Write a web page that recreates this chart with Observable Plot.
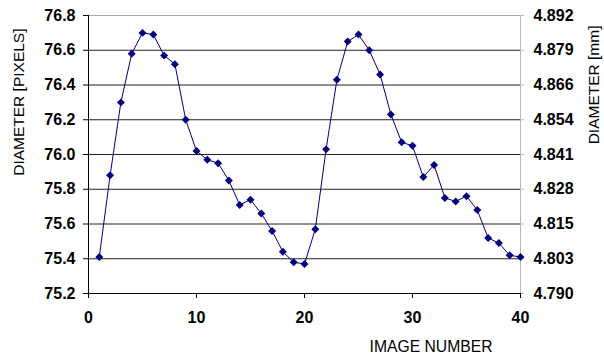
<!DOCTYPE html>
<html>
<head>
<meta charset="utf-8">
<script src="https://cdn.jsdelivr.net/npm/d3@7"></script>
<script src="https://cdn.jsdelivr.net/npm/@observablehq/plot@0.6"></script>
<style>
  html, body { margin: 0; padding: 0; background: #fff; }
</style>
</head>
<body>
<div id="chart"></div>
<script>
const imageNumbers = [1,2,3,4,5,6,7,8,9,10,11,12,13,14,15,16,17,18,19,20,21,22,23,24,25,26,27,28,29,30,31,32,33,34,35,36,37,38,39,40];
const diameterPixels = [75.41,75.88,76.30,76.58,76.70,76.69,76.57,76.52,76.20,76.02,75.97,75.95,75.85,75.71,75.74,75.66,75.56,75.44,75.38,75.37,75.57,76.03,76.43,76.65,76.69,76.60,76.46,76.23,76.07,76.05,75.87,75.94,75.75,75.73,75.76,75.68,75.52,75.49,75.42,75.41];
const leftTicks = [75.2,75.4,75.6,75.8,76.0,76.2,76.4,76.6,76.8];
const rightTickLabels = ["4.790","4.803","4.815","4.828","4.841","4.854","4.866","4.879","4.892"];
const xTicks = [0,10,20,30,40];
const leftTitle = "DIAMETER [PIXELS]";
const rightTitle = "DIAMETER [mm]";
const xTitle = "IMAGE NUMBER";

const data = imageNumbers.map((n, i) => ({n, d: diameterPixels[i]}));
const font = "'Liberation Sans', Arial, sans-serif";

const chart = Plot.plot({
  width: 604,
  height: 357,
  marginLeft: 88,
  marginRight: 84,
  marginTop: 15,
  marginBottom: 64,
  style: {fontFamily: font, fontSize: "16px", fontWeight: "bold", color: "#000", background: "#fff"},
  x: {domain: [0, 40]},
  y: {domain: [75.2, 76.8]},
  marks: [
    Plot.ruleY(leftTicks.slice(1, -1), {stroke: "#222", strokeWidth: 1}),
    Plot.ruleY([76.8], {stroke: "#aaa", strokeWidth: 1}),
    Plot.ruleX([40], {stroke: "#b8b8b8", strokeWidth: 1}),
    Plot.ruleY([75.2], {stroke: "#000", strokeWidth: 1}),
    Plot.ruleX([0], {stroke: "#000", strokeWidth: 1}),
    Plot.axisY({ticks: leftTicks, tickFormat: d3.format(".1f"), tickSize: 5, tickPadding: 8, label: null, anchor: "left", stroke: "#000"}),
    Plot.axisY({ticks: leftTicks, tickFormat: (d, i) => rightTickLabels[leftTicks.indexOf(d)], tickSize: 3, tickPadding: 10, label: null, anchor: "right", stroke: "#b8b8b8"}),
    Plot.axisX({ticks: xTicks, tickSize: 5, tickPadding: 13, label: null, stroke: "#000"}),
    Plot.line(data, {x: "n", y: "d", stroke: "#000080", strokeWidth: 1}),
    Plot.dot(data, {x: "n", y: "d", symbol: "diamond2", r: 3.6, fill: "#000080", stroke: "none"}),
    Plot.text([leftTitle], {frameAnchor: "top-left", text: d => d, rotate: -90, textAnchor: "end", lineAnchor: "middle", dx: -69.5, dy: 13, fontSize: 15.5, fontWeight: "normal", fill: "#000"}),
    Plot.text([rightTitle], {frameAnchor: "top-right", text: d => d, rotate: -90, textAnchor: "end", lineAnchor: "middle", dx: 74, dy: 10, fontSize: 15.5, fontWeight: "normal", fill: "#000"}),
    Plot.text([xTitle], {frameAnchor: "bottom-right", text: d => d, textAnchor: "end", lineAnchor: "middle", dx: -28, dy: 53, fontSize: 15.7, fontWeight: "normal", fill: "#000"})
  ]
});
document.getElementById("chart").appendChild(chart);
</script>
</body>
</html>
